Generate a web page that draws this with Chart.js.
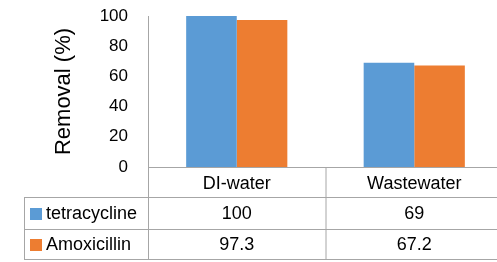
<!DOCTYPE html>
<html>
<head>
<meta charset="utf-8">
<script src="https://cdn.jsdelivr.net/npm/chart.js@4"></script>
<style>
  html, body { margin: 0; padding: 0; background: #fff; overflow: hidden; }
  #wrap { width: 503px; height: 262px; }
</style>
</head>
<body>
<div id="wrap"><canvas id="removalChart" width="503" height="262"></canvas></div>
<script>
// data
const categories = ['DI-water', 'Wastewater'];
const seriesNames = ['tetracycline', 'Amoxicillin'];
const tetracycline = [100, 69];
const amoxicillin = [97.3, 67.2];
const yTicks = [0, 20, 40, 60, 80, 100];

const colors = ['#5B9BD5', '#ED7D31'];
const lineColor = '#a6a6a6';
const fontFamily = "'Liberation Sans', Arial, sans-serif";

// Draw the data table under the plot (Excel style)
const dataTable = {
    id: 'dataTable',
    afterDraw(chart) {
        const ctx = chart.ctx;
        const x = chart.scales.x;
        const area = chart.chartArea;
        const rowTop = area.bottom;
        const rowH = [30, 32, 30];
        const r1 = rowTop + rowH[0];
        const r2 = r1 + rowH[1];
        const r3 = r2 + rowH[2];
        const tableLeft = 24;
        const right = chart.width;
        const mid = (x.getPixelForValue(0) + x.getPixelForValue(1)) / 2;

        ctx.save();
        ctx.strokeStyle = lineColor;
        ctx.lineWidth = 1;
        ctx.beginPath();
        // y axis line, runs down through the table
        ctx.moveTo(area.left + 0.5, area.top);
        ctx.lineTo(area.left + 0.5, r3);
        // x axis line
        ctx.moveTo(area.left, rowTop + 0.5);
        ctx.lineTo(right, rowTop + 0.5);
        // row lines
        [r1, r2, r3].forEach(y => {
            ctx.moveTo(tableLeft, y + 0.5);
            ctx.lineTo(right, y + 0.5);
        });
        ctx.moveTo(tableLeft + 0.5, r1);
        ctx.lineTo(tableLeft + 0.5, r3);
        ctx.moveTo(mid + 0.5, rowTop);
        ctx.lineTo(mid + 0.5, r3);
        ctx.stroke();

        ctx.fillStyle = '#000';
        ctx.font = '18px ' + fontFamily;
        ctx.textAlign = 'center';
        ctx.textBaseline = 'middle';
        categories.forEach((c, i) => {
            ctx.fillText(c, x.getPixelForValue(i), rowTop + rowH[0] / 2 + 2);
        });
        const rows = [tetracycline, amoxicillin];
        const rowMid = [(r1 + r2) / 2 + 1, (r2 + r3) / 2 + 1];
        rows.forEach((vals, k) => {
            vals.forEach((v, i) => {
                ctx.textAlign = 'center';
                ctx.fillText(String(v), x.getPixelForValue(i), rowMid[k]);
            });
            ctx.fillStyle = colors[k];
            ctx.fillRect(30, rowMid[k] - 6, 12, 12);
            ctx.fillStyle = '#000';
            ctx.textAlign = 'left';
            ctx.fillText(seriesNames[k], 46, rowMid[k]);
        });
        ctx.restore();
    }
};

const ctx = document.getElementById('removalChart').getContext('2d');
new Chart(ctx, {
    type: 'bar',
    data: {
        labels: categories,
        datasets: [
            { label: seriesNames[0], data: tetracycline, backgroundColor: colors[0] },
            { label: seriesNames[1], data: amoxicillin, backgroundColor: colors[1] }
        ]
    },
    options: {
        responsive: false,
        animation: false,
        layout: { padding: { top: 16, right: 0, bottom: 95, left: 0 } },
        plugins: { legend: { display: false }, tooltip: { enabled: false } },
        datasets: { bar: { categoryPercentage: 0.57, barPercentage: 1 } },
        scales: {
            x: {
                ticks: { display: false },
                grid: { display: false, drawTicks: false },
                border: { display: false }
            },
            y: {
                min: 0,
                max: 100,
                afterFit(s) { s.width = 148; },
                afterBuildTicks(s) { s.ticks = yTicks.map(v => ({ value: v })); },
                ticks: {
                    padding: 4,
                    color: '#000',
                    font: { family: fontFamily, size: 17 }
                },
                // tick marks are not drawn, their length only spaces the labels
                grid: { display: false, drawTicks: true, tickLength: 16 },
                border: { display: false },
                title: {
                    display: true,
                    text: 'Removal (%)',
                    color: '#000',
                    font: { family: fontFamily, size: 22 },
                    padding: { top: 51, bottom: 0 }
                }
            }
        }
    },
    plugins: [dataTable]
});
</script>
</body>
</html>
